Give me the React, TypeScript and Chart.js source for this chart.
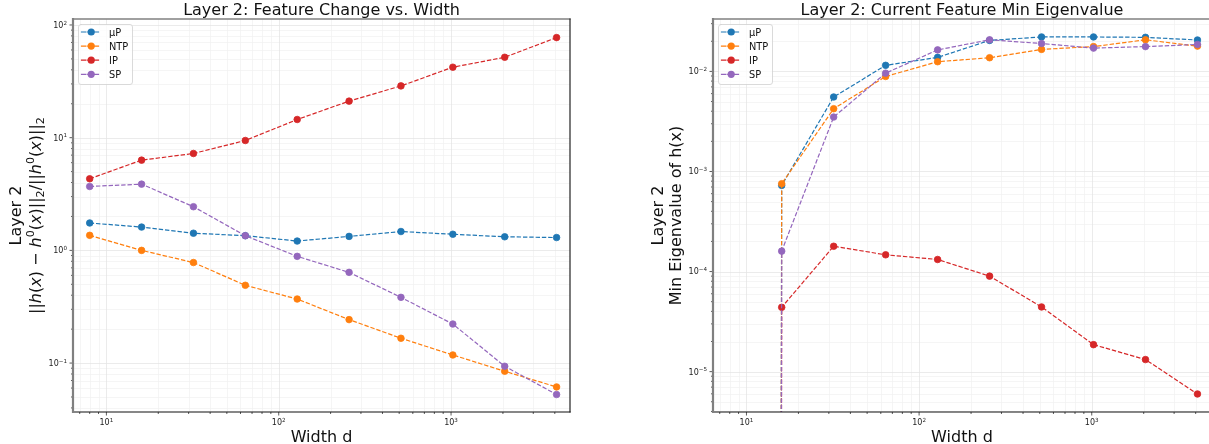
import React, { useEffect, useRef } from "react";
import { Chart, registerables } from "chart.js";

Chart.register(...registerables);

// ---------------- data ----------------
const widths = [8, 16, 32, 64, 128, 256, 512, 1024, 2048, 4096];
const seriesNames = ["μP", "NTP", "IP", "SP"];
const seriesColors = ["#1f77b4", "#ff7f0e", "#d62728", "#9467bd"];

// Left panel: relative feature change
const changeMuP = [1.75, 1.61, 1.42, 1.35, 1.21, 1.33, 1.47, 1.39, 1.32, 1.3];
const changeNTP = [1.36, 1.0, 0.78, 0.49, 0.37, 0.243, 0.166, 0.118, 0.0846, 0.0614];
const changeIP = [4.32, 6.32, 7.24, 9.44, 14.5, 21.1, 28.8, 42.2, 51.7, 77.3];
const changeSP = [3.69, 3.87, 2.44, 1.35, 0.885, 0.638, 0.383, 0.222, 0.0937, 0.0526];

// Right panel: min eigenvalue (0 at width 8)
const eigMuP = [0, 7.26e-4, 5.55e-3, 1.15e-2, 1.38e-2, 2.04e-2, 2.21e-2, 2.21e-2, 2.19e-2, 2.06e-2];
const eigNTP = [0, 7.55e-4, 4.24e-3, 8.9e-3, 1.25e-2, 1.37e-2, 1.66e-2, 1.77e-2, 2.07e-2, 1.79e-2];
const eigIP = [0, 4.39e-5, 1.79e-4, 1.47e-4, 1.32e-4, 9.0e-5, 4.43e-5, 1.86e-5, 1.32e-5, 5.98e-6];
const eigSP = [0, 1.6e-4, 3.5e-3, 9.6e-3, 1.64e-2, 2.07e-2, 1.9e-2, 1.71e-2, 1.77e-2, 1.86e-2];

const leftTitle = "Layer 2: Feature Change vs. Width";
const rightTitle = "Layer 2: Current Feature Min Eigenvalue";
const xAxisLabel = "Width d";
const leftYLabelLine1 = "Layer 2";
const rightYLabelLine1 = "Layer 2";
const rightYLabelLine2 = "Min Eigenvalue of h(x)";

type Piece = { t: string; s: "n" | "i" | "sup" | "sub" };
const leftYLabelMath: Piece[] = [
  { t: "||", s: "n" }, { t: "h", s: "i" }, { t: "(", s: "n" }, { t: "x", s: "i" }, { t: ")", s: "n" },
  { t: " \u2212 ", s: "n" },
  { t: "h", s: "i" }, { t: "0", s: "sup" }, { t: "(", s: "n" }, { t: "x", s: "i" }, { t: ")", s: "n" },
  { t: "||", s: "n" }, { t: "2", s: "sub" }, { t: "/", s: "n" },
  { t: "||", s: "n" }, { t: "h", s: "i" }, { t: "0", s: "sup" }, { t: "(", s: "n" }, { t: "x", s: "i" }, { t: ")", s: "n" },
  { t: "||", s: "n" }, { t: "2", s: "sub" },
];

// ---------------- styling ----------------
const FONT = '"DejaVu Sans", "Liberation Sans", sans-serif';
const GRID_MAJOR = "#e6e6e6";
const GRID_MINOR = "#f2f2f2";
const LINE_DASH = [4.4, 1.9];

function logValues(min: number, max: number) {
  const out: { v: number; major: boolean; exp: number }[] = [];
  for (let k = Math.floor(Math.log10(min)); k <= Math.ceil(Math.log10(max)); k++) {
    for (let m = 1; m <= 9; m++) {
      const v = m * Math.pow(10, k);
      if (v >= min * 0.9999 && v <= max * 1.0001) out.push({ v, major: m === 1, exp: k });
    }
  }
  return out;
}

function drawPow10(ctx: CanvasRenderingContext2D, exp: number, x: number, y: number, align: "center" | "right") {
  const base = "10";
  const e = exp < 0 ? "\u2212" + Math.abs(exp) : String(exp);
  ctx.font = `8px ${FONT}`;
  const wb = ctx.measureText(base).width;
  ctx.font = `5.6px ${FONT}`;
  const we = ctx.measureText(e).width;
  const w = wb + we;
  const x0 = align === "center" ? x - w / 2 : x - w;
  ctx.textAlign = "left";
  ctx.textBaseline = "alphabetic";
  ctx.fillStyle = "#222";
  ctx.font = `8px ${FONT}`;
  ctx.fillText(base, x0, y);
  ctx.font = `5.6px ${FONT}`;
  ctx.fillText(e, x0 + wb, y - 3.3);
}

function drawPieces(ctx: CanvasRenderingContext2D, pieces: Piece[], size: number) {
  const fontOf = (p: Piece) =>
    p.s === "i" ? `italic ${size}px ${FONT}` : p.s === "sup" || p.s === "sub" ? `${size * 0.7}px ${FONT}` : `${size}px ${FONT}`;
  const ws = pieces.map((p) => {
    ctx.font = fontOf(p);
    return ctx.measureText(p.t).width;
  });
  const total = ws.reduce((a, b) => a + b, 0);
  let x = -total / 2;
  ctx.textAlign = "left";
  ctx.textBaseline = "alphabetic";
  pieces.forEach((p, i) => {
    ctx.font = fontOf(p);
    const dy = p.s === "sup" ? -0.42 * size : p.s === "sub" ? 0.2 * size : 0;
    ctx.fillText(p.t, x, dy);
    x += ws[i];
  });
}

type PanelCfg = {
  canvasLeft: number;
  canvasWidth: number;
  padding: { left: number; right: number; top: number; bottom: number };
  xMin: number;
  xMax: number;
  yMin: number;
  yMax: number;
  series: number[][];
  zeroClip: boolean;
  title: string;
  drawYLabel: (ctx: CanvasRenderingContext2D, cy: number) => void;
};

function makePlugin(cfg: PanelCfg) {
  return {
    id: "mplDecor",
    beforeDatasetsDraw(chart: any) {
      const { ctx, chartArea: a } = chart;
      const xs = chart.scales.x;
      const ys = chart.scales.y;
      ctx.save();
      ctx.lineWidth = 0.8;
      const xt = logValues(cfg.xMin, cfg.xMax);
      const yt = logValues(cfg.yMin, cfg.yMax);
      for (const pass of [false, true]) {
        for (const t of xt) {
          if (t.major !== pass) continue;
          const px = Math.round(xs.getPixelForValue(t.v)) + 0.5;
          ctx.strokeStyle = t.major ? GRID_MAJOR : GRID_MINOR;
          ctx.beginPath();
          ctx.moveTo(px, a.top);
          ctx.lineTo(px, a.bottom);
          ctx.stroke();
        }
        for (const t of yt) {
          if (t.major !== pass) continue;
          const py = Math.round(ys.getPixelForValue(t.v)) + 0.5;
          ctx.strokeStyle = t.major ? GRID_MAJOR : GRID_MINOR;
          ctx.beginPath();
          ctx.moveTo(a.left, py);
          ctx.lineTo(a.right, py);
          ctx.stroke();
        }
      }
      ctx.restore();
    },
    afterDatasetsDraw(chart: any) {
      const { ctx, chartArea: a } = chart;
      const xs = chart.scales.x;
      const ys = chart.scales.y;
      ctx.save();
      // ticks
      ctx.strokeStyle = "#333";
      ctx.lineWidth = 0.8;
      for (const t of logValues(cfg.xMin, cfg.xMax)) {
        const px = xs.getPixelForValue(t.v);
        const len = t.major ? 3.5 : 2;
        ctx.beginPath();
        ctx.moveTo(px, a.bottom);
        ctx.lineTo(px, a.bottom + len);
        ctx.stroke();
        if (t.major) drawPow10(ctx, t.exp, px, a.bottom + 13, "center");
      }
      for (const t of logValues(cfg.yMin, cfg.yMax)) {
        const py = ys.getPixelForValue(t.v);
        const len = t.major ? 3.5 : 2;
        ctx.beginPath();
        ctx.moveTo(a.left, py);
        ctx.lineTo(a.left - len, py);
        ctx.stroke();
        if (t.major) drawPow10(ctx, t.exp, a.left - 6, py + 2.9, "right");
      }
      // spines
      ctx.lineCap = "square";
      ctx.strokeStyle = "#808080";
      ctx.lineWidth = 1.3;
      ctx.beginPath();
      ctx.moveTo(a.left, a.top);
      ctx.lineTo(a.right, a.top);
      ctx.stroke();
      ctx.strokeStyle = "#222";
      ctx.lineWidth = 1.2;
      ctx.beginPath();
      ctx.moveTo(a.right, a.top);
      ctx.lineTo(a.right, a.bottom);
      ctx.stroke();
      ctx.strokeStyle = "#111";
      ctx.beginPath();
      ctx.moveTo(a.left, a.bottom);
      ctx.lineTo(a.right, a.bottom);
      ctx.stroke();
      ctx.strokeStyle = "#808080";
      ctx.lineWidth = 2.2;
      ctx.beginPath();
      ctx.moveTo(a.left, a.top);
      ctx.lineTo(a.left, a.bottom);
      ctx.stroke();

      // legend
      const bx = a.left + 5;
      const by = 24;
      const bw = 54;
      const bh = 60;
      ctx.beginPath();
      (ctx as any).roundRect(bx + 0.5, by + 0.5, bw, bh, 2.5);
      ctx.fillStyle = "rgba(255,255,255,0.8)";
      ctx.fill();
      ctx.strokeStyle = "#d0d0d0";
      ctx.lineWidth = 0.8;
      ctx.stroke();
      seriesNames.forEach((name, i) => {
        const ry = 32 + i * 14.1;
        ctx.strokeStyle = seriesColors[i];
        ctx.lineWidth = 1.2;
        ctx.setLineDash(LINE_DASH);
        ctx.beginPath();
        ctx.moveTo(bx + 3.5, ry);
        ctx.lineTo(bx + 22, ry);
        ctx.stroke();
        ctx.setLineDash([]);
        ctx.fillStyle = seriesColors[i];
        ctx.beginPath();
        ctx.arc(bx + 13.2, ry, 3.6, 0, Math.PI * 2);
        ctx.fill();
        ctx.fillStyle = "#111";
        ctx.font = `9.8px ${FONT}`;
        ctx.textAlign = "left";
        ctx.textBaseline = "alphabetic";
        ctx.fillText(name, bx + 31, ry + 3.6);
      });

      // title
      ctx.fillStyle = "#111";
      ctx.font = `16px ${FONT}`;
      ctx.textAlign = "center";
      ctx.textBaseline = "alphabetic";
      const cx = (a.left + a.right) / 2;
      ctx.fillText(cfg.title, cx, 14.5);
      // x label
      ctx.fillText(xAxisLabel, cx, 441.5);
      // y label
      cfg.drawYLabel(ctx, (a.top + a.bottom) / 2);
      ctx.restore();
    },
  };
}

const leftPanel: PanelCfg = {
  canvasLeft: 0,
  canvasWidth: 640,
  padding: { left: 73, right: 70, top: 19, bottom: 32 },
  xMin: 6.4,
  xMax: 4900,
  yMin: 0.0368,
  yMax: 113,
  series: [changeMuP, changeNTP, changeIP, changeSP],
  zeroClip: false,
  title: leftTitle,
  drawYLabel: (ctx, cy) => {
    ctx.fillStyle = "#111";
    ctx.save();
    ctx.translate(20.5, cy);
    ctx.rotate(-Math.PI / 2);
    ctx.font = `16px ${FONT}`;
    ctx.textAlign = "center";
    ctx.textBaseline = "alphabetic";
    ctx.fillText(leftYLabelLine1, 0, 0);
    ctx.restore();
    ctx.save();
    ctx.translate(41, cy);
    ctx.rotate(-Math.PI / 2);
    drawPieces(ctx, leftYLabelMath, 16);
    ctx.restore();
  },
};

const rightPanel: PanelCfg = {
  canvasLeft: 640,
  canvasWidth: 575,
  padding: { left: 73, right: 3, top: 19, bottom: 32 },
  xMin: 6.4,
  xMax: 4900,
  yMin: 3.95e-6,
  yMax: 0.0334,
  series: [eigMuP, eigNTP, eigIP, eigSP],
  zeroClip: true,
  title: rightTitle,
  drawYLabel: (ctx, cy) => {
    ctx.fillStyle = "#111";
    ctx.font = `16px ${FONT}`;
    ctx.textAlign = "center";
    ctx.textBaseline = "alphabetic";
    ctx.save();
    ctx.translate(23, cy);
    ctx.rotate(-Math.PI / 2);
    ctx.fillText(rightYLabelLine1, 0, 0);
    ctx.restore();
    ctx.save();
    ctx.translate(41, cy);
    ctx.rotate(-Math.PI / 2);
    ctx.fillText(rightYLabelLine2, 0, 0);
    ctx.restore();
  },
};

function Panel({ cfg }: { cfg: PanelCfg }) {
  const ref = useRef<HTMLCanvasElement | null>(null);
  useEffect(() => {
    if (!ref.current) return;
    const datasets = cfg.series.map((vals, i) => ({
      label: seriesNames[i],
      // a non-positive value on a log axis is clipped far below the axis (as matplotlib does)
      data: widths.map((w, j) => ({ x: w, y: vals[j] > 0 ? vals[j] : 1e-300 })),
      borderColor: seriesColors[i],
      backgroundColor: seriesColors[i],
      pointBackgroundColor: seriesColors[i],
      pointBorderColor: seriesColors[i],
      borderWidth: 1.2,
      borderDash: LINE_DASH,
      pointRadius: 3.3,
      pointBorderWidth: 0.8,
      pointHoverRadius: 3.3,
      tension: 0,
      fill: false,
      order: 3 - i,
      clip: cfg.zeroClip ? { left: 6, right: 6, top: 6, bottom: 0 } : 6,
    }));
    const chart = new Chart(ref.current, {
      type: "line",
      data: { datasets: datasets as any },
      options: {
        responsive: false,
        animation: false,
        events: [],
        parsing: false as any,
        normalized: true,
        layout: { padding: cfg.padding },
        plugins: {
          legend: { display: false },
          title: { display: false },
          tooltip: { enabled: false },
        },
        scales: {
          x: { type: "logarithmic", min: cfg.xMin, max: cfg.xMax, display: false },
          y: { type: "logarithmic", min: cfg.yMin, max: cfg.yMax, display: false },
        },
      },
      plugins: [makePlugin(cfg) as any],
    });
    return () => chart.destroy();
  }, [cfg]);
  return (
    <canvas
      ref={ref}
      width={cfg.canvasWidth}
      height={444}
      style={{ position: "absolute", left: cfg.canvasLeft, top: 0, width: cfg.canvasWidth, height: 444 }}
    />
  );
}

export default function App() {
  return (
    <div
      style={{
        position: "absolute",
        left: 0,
        top: 0,
        width: 1209,
        height: 444,
        overflow: "hidden",
        background: "#fff",
      }}
    >
      <Panel cfg={leftPanel} />
      <Panel cfg={rightPanel} />
    </div>
  );
}
